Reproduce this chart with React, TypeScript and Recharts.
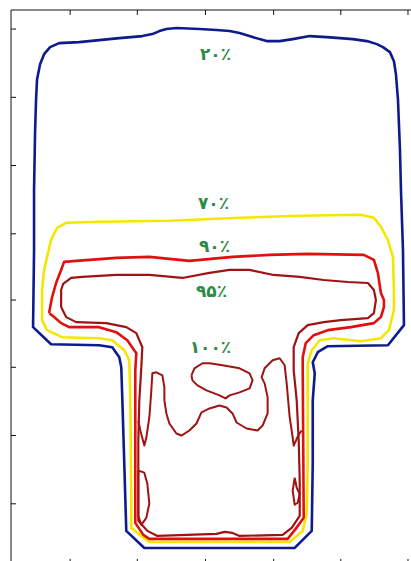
import { ComposedChart, Line, Scatter, XAxis, YAxis } from "recharts";

// isodose contours, coordinates (image units, y down)
type Pt = { x: number; y: number };

const isodose20: Pt[] = [
  { x: 37, y: 100 }, { x: 38, y: 80 }, { x: 41, y: 65 }, { x: 45, y: 55 }, { x: 51, y: 48 },
  { x: 60, y: 44 }, { x: 80, y: 43 }, { x: 100, y: 41 }, { x: 120, y: 39 }, { x: 143, y: 37 },
  { x: 153, y: 35 }, { x: 160, y: 32 }, { x: 167, y: 30 }, { x: 177, y: 29 }, { x: 200, y: 30 },
  { x: 217, y: 31 }, { x: 230, y: 32 }, { x: 240, y: 34 }, { x: 253, y: 38 }, { x: 267, y: 42 },
  { x: 280, y: 42 }, { x: 293, y: 40 }, { x: 310, y: 37 }, { x: 327, y: 38 }, { x: 353, y: 40 },
  { x: 367, y: 42 }, { x: 377, y: 45 }, { x: 383, y: 48 }, { x: 390, y: 53 }, { x: 394, y: 62 },
  { x: 396, y: 75 }, { x: 398, y: 100 }, { x: 400, y: 150 }, { x: 401, y: 190 }, { x: 403, y: 250 },
  { x: 404, y: 325 }, { x: 388, y: 345 }, { x: 328, y: 346 }, { x: 318, y: 352 }, { x: 313, y: 362 },
  { x: 315, y: 373 }, { x: 313, y: 400 }, { x: 313, y: 463 }, { x: 312, y: 530 }, { x: 295, y: 547 },
  { x: 145, y: 547 }, { x: 127, y: 530 }, { x: 125, y: 463 }, { x: 123, y: 397 }, { x: 122, y: 367 },
  { x: 120, y: 357 }, { x: 113, y: 347 }, { x: 100, y: 345 }, { x: 52, y: 344 }, { x: 34, y: 327 },
  { x: 35, y: 250 }, { x: 35, y: 190 }, { x: 36, y: 133 }, { x: 37, y: 100 },
];

const isodose70: Pt[] = [
  { x: 43, y: 300 }, { x: 43, y: 290 }, { x: 45, y: 270 }, { x: 48, y: 257 }, { x: 52, y: 240 },
  { x: 58, y: 228 }, { x: 67, y: 223 }, { x: 100, y: 222 }, { x: 170, y: 221 }, { x: 241, y: 218 },
  { x: 300, y: 216 }, { x: 361, y: 215 }, { x: 374, y: 218 }, { x: 381, y: 227 }, { x: 388, y: 240 },
  { x: 393, y: 257 }, { x: 394, y: 290 }, { x: 394, y: 310 }, { x: 389, y: 330 }, { x: 381, y: 338 },
  { x: 361, y: 341 }, { x: 334, y: 338 }, { x: 320, y: 340 }, { x: 312, y: 350 }, { x: 308, y: 363 },
  { x: 308, y: 463 }, { x: 307, y: 513 }, { x: 303, y: 530 }, { x: 290, y: 541 }, { x: 150, y: 541 },
  { x: 142, y: 535 }, { x: 132, y: 527 }, { x: 132, y: 497 }, { x: 131, y: 397 }, { x: 130, y: 360 },
  { x: 125, y: 350 }, { x: 113, y: 340 }, { x: 100, y: 338 }, { x: 63, y: 337 }, { x: 48, y: 330 },
  { x: 43, y: 320 }, { x: 43, y: 300 },
];

const isodose90: Pt[] = [
  { x: 50, y: 313 }, { x: 53, y: 297 }, { x: 57, y: 283 }, { x: 62, y: 270 }, { x: 65, y: 262 },
  { x: 77, y: 261 }, { x: 117, y: 258 }, { x: 150, y: 257 }, { x: 190, y: 261 }, { x: 233, y: 257 },
  { x: 270, y: 255 }, { x: 308, y: 254 }, { x: 364, y: 255 }, { x: 374, y: 260 }, { x: 378, y: 273 },
  { x: 381, y: 293 }, { x: 384, y: 300 }, { x: 384, y: 307 }, { x: 381, y: 317 }, { x: 374, y: 323 },
  { x: 351, y: 327 }, { x: 328, y: 330 }, { x: 314, y: 335 }, { x: 306, y: 343 }, { x: 303, y: 357 },
  { x: 303, y: 370 }, { x: 304, y: 517 }, { x: 296, y: 528 }, { x: 288, y: 538 }, { x: 150, y: 538 },
  { x: 144, y: 534 }, { x: 136, y: 522 }, { x: 136, y: 370 }, { x: 137, y: 353 }, { x: 128, y: 340 },
  { x: 117, y: 332 }, { x: 100, y: 327 }, { x: 70, y: 327 }, { x: 62, y: 323 }, { x: 55, y: 317 },
  { x: 50, y: 313 },
];

const isodose95: Pt[] = [
  { x: 62, y: 307 }, { x: 62, y: 290 }, { x: 64, y: 284 }, { x: 72, y: 278 }, { x: 83, y: 277 },
  { x: 117, y: 275 }, { x: 150, y: 275 }, { x: 183, y: 278 }, { x: 210, y: 273 }, { x: 230, y: 270 },
  { x: 250, y: 270 }, { x: 274, y: 275 }, { x: 300, y: 277 }, { x: 324, y: 280 }, { x: 348, y: 282 },
  { x: 368, y: 283 }, { x: 374, y: 290 }, { x: 376, y: 300 }, { x: 374, y: 313 }, { x: 368, y: 318 },
  { x: 341, y: 320 }, { x: 324, y: 322 }, { x: 308, y: 325 }, { x: 299, y: 333 }, { x: 294, y: 347 },
  { x: 294, y: 370 }, { x: 297, y: 400 }, { x: 299, y: 440 }, { x: 300, y: 480 }, { x: 300, y: 515 },
  { x: 292, y: 527 }, { x: 283, y: 534 }, { x: 240, y: 535 }, { x: 233, y: 532 }, { x: 225, y: 531 },
  { x: 217, y: 533 }, { x: 158, y: 535 }, { x: 148, y: 530 }, { x: 139, y: 520 }, { x: 139, y: 480 },
  { x: 139, y: 440 }, { x: 140, y: 400 }, { x: 142, y: 367 }, { x: 143, y: 347 }, { x: 137, y: 333 },
  { x: 127, y: 327 }, { x: 107, y: 323 }, { x: 77, y: 322 }, { x: 67, y: 317 }, { x: 62, y: 307 },
];

const isodose100Ridge: Pt[] = [
  { x: 139, y: 420 }, { x: 141, y: 430 }, { x: 145, y: 445 }, { x: 147, y: 437 }, { x: 150, y: 417 },
  { x: 152, y: 390 }, { x: 153, y: 373 }, { x: 157, y: 372 }, { x: 163, y: 375 }, { x: 165, y: 387 },
  { x: 165, y: 400 }, { x: 167, y: 413 }, { x: 170, y: 423 }, { x: 177, y: 433 }, { x: 182, y: 435 },
  { x: 190, y: 430 }, { x: 197, y: 423 }, { x: 202, y: 412 }, { x: 210, y: 408 }, { x: 220, y: 405 },
  { x: 227, y: 407 }, { x: 233, y: 413 }, { x: 237, y: 422 }, { x: 247, y: 428 }, { x: 258, y: 430 },
  { x: 263, y: 425 }, { x: 268, y: 413 }, { x: 268, y: 397 }, { x: 265, y: 383 }, { x: 262, y: 377 },
  { x: 265, y: 368 }, { x: 273, y: 360 }, { x: 280, y: 358 }, { x: 285, y: 365 }, { x: 287, y: 383 },
  { x: 290, y: 417 }, { x: 292, y: 430 }, { x: 294, y: 445 }, { x: 299, y: 434 }, { x: 302, y: 430 },
];

const isodose100Island: Pt[] = [
  { x: 192, y: 375 }, { x: 195, y: 368 }, { x: 203, y: 363 }, { x: 210, y: 363 }, { x: 223, y: 365 },
  { x: 240, y: 368 }, { x: 250, y: 373 }, { x: 253, y: 380 }, { x: 250, y: 388 }, { x: 240, y: 392 },
  { x: 230, y: 395 }, { x: 226, y: 398 }, { x: 220, y: 395 }, { x: 207, y: 390 }, { x: 198, y: 385 },
  { x: 193, y: 380 }, { x: 192, y: 375 },
];

const isodose100LeftSpur: Pt[] = [
  { x: 139, y: 470 }, { x: 142, y: 471 }, { x: 145, y: 472 }, { x: 148, y: 483 }, { x: 150, y: 503 },
  { x: 147, y: 517 }, { x: 142, y: 524 }, { x: 139, y: 515 }, { x: 139, y: 470 },
];

const isodose100RightSpur: Pt[] = [
  { x: 295, y: 477 }, { x: 297, y: 487 }, { x: 300, y: 493 }, { x: 298, y: 502 }, { x: 295, y: 504 },
  { x: 293, y: 490 }, { x: 295, y: 477 },
];

const levelLabels = [
  { x: 216, y: 55, text: "۲۰٪" },
  { x: 214, y: 203, text: "۷۰٪" },
  { x: 215, y: 246, text: "۹۰٪" },
  { x: 212, y: 291, text: "۹۵٪" },
  { x: 211, y: 347, text: "۱۰۰٪" },
];

const xTicks = [71, 138, 206, 274, 341, 408];
const yTicks = [30, 98, 166, 234, 300, 367, 435, 503];

const BLUE = "#0d1b8c";
const YELLOW = "#f5e600";
const RED = "#e0100e";
const DARK_RED = "#9e1414";
const GREEN = "#2e8b46";

const LevelLabel = (props: any) => (
  <text
    x={props.cx}
    y={props.cy}
    textAnchor="middle"
    dominantBaseline="central"
    fill={GREEN}
    fontSize={17}
    fontWeight="bold"
    fontFamily="DejaVu Sans"
  >
    {props.payload.text}
  </text>
);

const contours: { key: string; data: Pt[]; color: string; width: number }[] = [
  { key: "d20", data: isodose20, color: BLUE, width: 2.6 },
  { key: "d70", data: isodose70, color: YELLOW, width: 2.6 },
  { key: "d90", data: isodose90, color: RED, width: 2.6 },
  { key: "d95", data: isodose95, color: DARK_RED, width: 2.2 },
  { key: "r100", data: isodose100Ridge, color: DARK_RED, width: 2 },
  { key: "i100", data: isodose100Island, color: DARK_RED, width: 2 },
  { key: "ls100", data: isodose100LeftSpur, color: DARK_RED, width: 2 },
  { key: "rs100", data: isodose100RightSpur, color: DARK_RED, width: 2 },
];

export default function App() {
  const blank = () => "";
  return (
    <div
      style={{
        position: "absolute",
        left: 0,
        top: 0,
        width: 411,
        height: 561,
        overflow: "hidden",
        background: "#fff",
      }}
    >
      <ComposedChart width={418} height={564} margin={{ top: 10, right: 0, bottom: 0, left: 11 }}>
        <XAxis
          xAxisId="top"
          orientation="top"
          type="number"
          dataKey="x"
          domain={[12, 418]}
          allowDataOverflow
          ticks={xTicks}
          tickFormatter={blank}
          height={1}
          mirror
          tickSize={5}
          stroke="#111"
        />
        <XAxis
          xAxisId="bottom"
          orientation="bottom"
          type="number"
          dataKey="x"
          domain={[12, 418]}
          allowDataOverflow
          ticks={xTicks}
          tickFormatter={blank}
          height={1}
          mirror
          tickSize={5}
          stroke="#111"
        />
        <YAxis
          type="number"
          dataKey="y"
          domain={[11, 563]}
          reversed
          allowDataOverflow
          ticks={yTicks}
          tickFormatter={blank}
          width={1}
          mirror
          tickSize={5}
          stroke="#111"
        />
        {contours.map((c) => (
          <Line
            key={c.key}
            xAxisId="top"
            data={c.data}
            dataKey="y"
            type="linear"
            stroke={c.color}
            strokeWidth={c.width}
            strokeLinejoin="round"
            dot={false}
            activeDot={false}
            isAnimationActive={false}
          />
        ))}
        <Scatter
          xAxisId="top"
          data={levelLabels}
          dataKey="y"
          shape={LevelLabel}
          isAnimationActive={false}
        />
      </ComposedChart>
    </div>
  );
}
